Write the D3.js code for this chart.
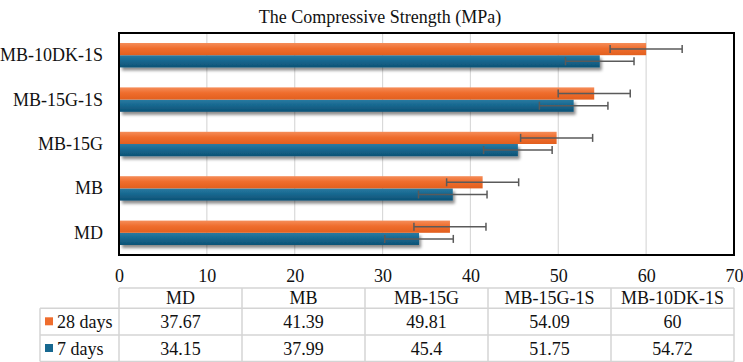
<!DOCTYPE html>
<html>
<head>
<meta charset="utf-8">
<style>
  body { margin: 0; background: #fff; }
  svg { display: block; }
</style>
</head>
<body>
<svg id="chart" width="743" height="362"></svg>
<script src="https://cdn.jsdelivr.net/npm/d3@7/dist/d3.min.js"></script>
<script>
// data
const categories = ["MD", "MB", "MB-15G", "MB-15G-1S", "MB-10DK-1S"];
const seriesNames = ["28 days", "7 days"];
const days28 = [37.67, 41.39, 49.81, 54.09, 60];
const days7 = [34.15, 37.99, 45.4, 51.75, 54.72];
const err28 = [4.1, 4.1, 4.1, 4.1, 4.1];
const err7 = [3.9, 3.9, 3.9, 3.9, 3.9];
const xTicks = [0, 10, 20, 30, 40, 50, 60, 70];

const FONT = "Liberation Serif";
const svg = d3.select("#chart").attr("font-family", FONT);
const plot = { left: 119, right: 734, top: 33, bottom: 255 };

const x = d3.scaleLinear().domain([0, 70]).range([plot.left, plot.right]);
// top of chart is the last category
const y = d3.scaleBand().domain(categories.slice().reverse())
    .range([plot.top, plot.bottom]).paddingInner(0.45).paddingOuter(0.225);
const ySub = d3.scaleBand().domain(seriesNames).range([0, y.bandwidth()]);

const defs = svg.append("defs");
function grad(id, stops) {
  const g = defs.append("linearGradient").attr("id", id)
      .attr("x1", 0).attr("y1", 0).attr("x2", 0).attr("y2", 1);
  stops.forEach(s => g.append("stop").attr("offset", s[0]).attr("stop-color", s[1]));
}
grad("gOrange", [[0, "#f58d59"], [0.45, "#ef6d2d"], [1, "#e25f1e"]]);
grad("gBlue", [[0, "#2b7aa1"], [0.45, "#176890"], [1, "#0e5275"]]);
const shadow = defs.append("filter").attr("id", "shadow")
    .attr("x", "-5%").attr("y", "-30%").attr("width", "115%").attr("height", "180%");
shadow.append("feDropShadow").attr("dx", 2).attr("dy", 3)
    .attr("stdDeviation", 1.6).attr("flood-color", "#000").attr("flood-opacity", 0.45);

// title
svg.append("text").attr("x", 380).attr("y", 23).attr("text-anchor", "middle")
    .attr("font-family", FONT).attr("font-size", 18).attr("fill", "#111")
    .text("The Compressive Strength (MPa)");

// grid lines
svg.append("g").selectAll("line").data(xTicks.slice(1, -1)).join("line")
    .attr("x1", d => x(d)).attr("x2", d => x(d))
    .attr("y1", plot.top).attr("y2", plot.bottom)
    .attr("stroke", "#d9d9d9").attr("stroke-width", 1.2);

// bars
const colors = { "28 days": "url(#gOrange)", "7 days": "url(#gBlue)" };
const rows = categories.map((c, i) => [
  { cat: c, s: "28 days", v: days28[i], e: err28[i] },
  { cat: c, s: "7 days", v: days7[i], e: err7[i] }
]).flat();

const barG = svg.append("g");
["7 days", "28 days"].forEach(s => {
  barG.selectAll(null).data(rows.filter(r => r.s === s)).join("rect")
      .attr("x", x(0) + 1)
      .attr("y", d => y(d.cat) + ySub(d.s))
      .attr("width", d => x(d.v) - x(0) - 1)
      .attr("height", ySub.bandwidth())
      .attr("fill", colors[s])
      .attr("filter", s === "7 days" ? "url(#shadow)" : null);
});

// error bars
const errG = svg.append("g").attr("stroke", "#5a5a5a").attr("stroke-width", 1.5);
rows.forEach(d => {
  const cy = y(d.cat) + ySub(d.s) + ySub.bandwidth() / 2;
  errG.append("line").attr("x1", x(d.v - d.e)).attr("x2", x(d.v + d.e)).attr("y1", cy).attr("y2", cy);
  [d.v - d.e, d.v + d.e].forEach(v => {
    errG.append("line").attr("x1", x(v)).attr("x2", x(v)).attr("y1", cy - 4).attr("y2", cy + 4);
  });
});

// plot border
svg.append("rect").attr("x", plot.left).attr("y", plot.top)
    .attr("width", plot.right - plot.left).attr("height", plot.bottom - plot.top)
    .attr("fill", "none").attr("stroke", "#000").attr("stroke-width", 2);

// category labels
svg.append("g").selectAll("text").data(categories).join("text")
    .attr("x", 103).attr("y", d => y(d) + y.bandwidth() / 2 + 6)
    .attr("text-anchor", "end").attr("font-family", FONT).attr("font-size", 18).attr("fill", "#111")
    .text(d => d);

// x axis labels
const xAxis = svg.append("g").attr("transform", `translate(0,${plot.bottom})`)
    .call(d3.axisBottom(x).tickValues(xTicks).tickSize(0).tickPadding(14));
xAxis.attr("font-family", FONT).attr("font-size", 18);
xAxis.select(".domain").remove();
xAxis.selectAll("text").attr("fill", "#111");

// data table
const colW = (plot.right - plot.left) / categories.length;
const labelLeft = 40;
const rowY = [288, 308.3, 335, 361.5];
const tg = svg.append("g").attr("font-family", FONT).attr("font-size", 18).attr("fill", "#111");
const lineC = "#d4d4d4";
tg.append("line").attr("x1", plot.left).attr("x2", plot.right).attr("y1", rowY[0]).attr("y2", rowY[0])
    .attr("stroke", lineC).attr("stroke-width", 1.5);
rowY.slice(1).forEach(yy => tg.append("line").attr("x1", labelLeft).attr("x2", plot.right)
    .attr("y1", yy).attr("y2", yy).attr("stroke", lineC).attr("stroke-width", 1.5));
tg.append("line").attr("x1", labelLeft).attr("x2", labelLeft).attr("y1", rowY[1]).attr("y2", rowY[3])
    .attr("stroke", lineC).attr("stroke-width", 1.5);
d3.range(categories.length + 1).forEach(i => {
  const xx = plot.left + i * colW;
  tg.append("line").attr("x1", xx).attr("x2", xx).attr("y1", rowY[0]).attr("y2", rowY[3])
      .attr("stroke", lineC).attr("stroke-width", 1.5);
});
categories.forEach((c, i) => {
  tg.append("text").attr("x", plot.left + (i + 0.5) * colW).attr("y", rowY[0] + 16)
      .attr("text-anchor", "middle").text(c);
});
const tableVals = [days28, days7];
const swatch = ["#ef6d2d", "#176890"];
seriesNames.forEach((s, r) => {
  const ty = rowY[r + 1] + 20;
  tg.append("rect").attr("x", 45).attr("y", ty - 11).attr("width", 8).attr("height", 8).attr("fill", swatch[r]);
  tg.append("text").attr("x", 57).attr("y", ty).text(s);
  tableVals[r].forEach((v, i) => {
    tg.append("text").attr("x", plot.left + (i + 0.5) * colW).attr("y", ty)
        .attr("text-anchor", "middle").text(v);
  });
});
</script>
</body>
</html>
